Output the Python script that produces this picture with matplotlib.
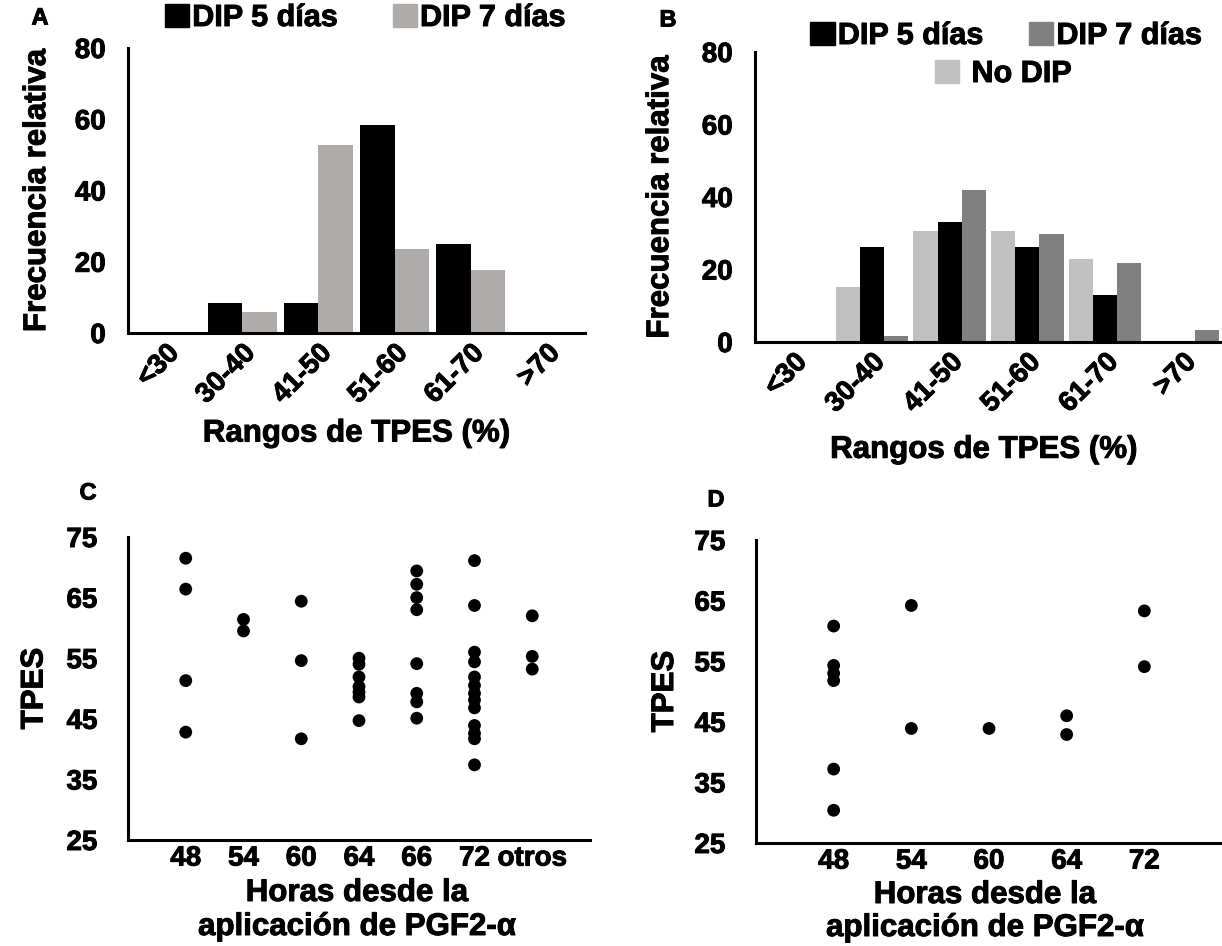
import matplotlib
matplotlib.use("Agg")
import matplotlib.pyplot as plt
import matplotlib.patheffects as pe
from matplotlib.patches import Patch
from matplotlib.text import Text
import numpy as np

plt.rcParams['font.family'] = ['Liberation Sans', 'DejaVu Sans']
plt.rcParams['font.weight'] = 'bold'

# ---------------- data ----------------
rangos = ["<30", "30-40", "41-50", "51-60", "61-70", ">70"]
a_dip5 = [0, 8.3, 8.3, 58.3, 25.0, 0]
a_dip7 = [0, 5.9, 52.9, 23.5, 17.6, 0]

b_nodip = [0, 15.1, 30.6, 30.6, 22.8, 0]
b_dip5 = [0, 26.3, 33.2, 26.3, 12.9, 0]
b_dip7 = [0, 1.6, 41.8, 29.7, 21.7, 3.4]

c_labels = ["48", "54", "60", "64", "66", "72", "otros"]
c_values = [
    [71.5, 66.4, 51.3, 42.8],
    [61.4, 59.5],
    [64.4, 54.6, 41.7],
    [55.0, 54.0, 51.9, 50.3, 49.4, 48.6, 44.7],
    [69.4, 67.2, 65.0, 63.0, 54.1, 49.2, 47.8, 45.1],
    [71.1, 63.7, 56.0, 54.4, 51.9, 50.5, 49.2, 48.1, 46.8, 43.9, 42.6, 41.7, 37.4],
    [62.0, 55.3, 53.2],
]

d_labels = ["48", "54", "60", "64", "72"]
d_values = [
    [60.8, 54.3, 53.0, 51.8, 37.2, 30.4],
    [64.2, 43.9],
    [43.9],
    [46.0, 42.9],
    [63.3, 54.1],
]

# ---------------- style ----------------
W, H = 1222, 946
fig = plt.figure(figsize=(W / 100, H / 100), dpi=100)

TICK_FS = 20
LAB_FS = 22.5
LEG_FS = 22
LET_FS = 17
SPINE_W = 2.2

BLACK = "#000000"
GRAY_A = "#AEABAA"
LIGHT_B = "#C0C0C0"
DARK_B = "#808080"


def px_axes(left, top, right, bottom):
    return fig.add_axes([left / W, 1 - bottom / H, (right - left) / W, (bottom - top) / H])


def fy(y):
    return 1 - y / H


def style(ax):
    for s in ("top", "right"):
        ax.spines[s].set_visible(False)
    for s in ("left", "bottom"):
        ax.spines[s].set_linewidth(SPINE_W)
        ax.spines[s].set_color("black")
    ax.tick_params(axis="both", length=0, labelsize=TICK_FS)
    for lab in ax.get_xticklabels() + ax.get_yticklabels():
        lab.set_fontweight("bold")


# ---------------- Panel A ----------------
axA = px_axes(128, 48, 585, 333)
x = np.arange(len(rangos)) + 0.5
bw = 0.45
axA.bar(x - bw / 2, a_dip5, width=bw, color=BLACK, label="DIP 5 días")
axA.bar(x + bw / 2, a_dip7, width=bw, color=GRAY_A, label="DIP 7 días")
axA.set_xlim(0, len(rangos))
axA.set_ylim(0, 80)
axA.set_yticks([0, 20, 40, 60, 80])
axA.set_xticks(x)
axA.set_xticklabels(rangos, rotation=45, ha="right", va="top", rotation_mode="anchor")
style(axA)
axA.tick_params(axis="y", pad=16)
axA.tick_params(axis="x", pad=5)
axA.set_ylabel("Frecuencia relativa", fontsize=LAB_FS, fontweight="bold")
axA.yaxis.set_label_coords(-0.166, 0.5)
axA.set_xlabel("Rangos de TPES (%)", fontsize=LAB_FS, fontweight="bold")
axA.xaxis.set_label_coords(0.5, -0.30)
fig.legend(handles=[Patch(color=BLACK, label="DIP 5 días"), Patch(color=GRAY_A, label="DIP 7 días")],
           loc="center", bbox_to_anchor=(365 / W, fy(18)), ncol=2, frameon=False,
           handlelength=0.8, handleheight=0.8, handletextpad=0.1,
           columnspacing=1.8, prop={"weight": "bold", "size": LEG_FS})
fig.text(40 / W, fy(18), "A", fontsize=LET_FS, fontweight="bold", ha="center", va="center")

# ---------------- Panel B ----------------
axB = px_axes(755, 52, 1222, 342)
bw3 = 0.31
axB.bar(x - bw3, b_nodip, width=bw3, color=LIGHT_B, label="No DIP")
axB.bar(x, b_dip5, width=bw3, color=BLACK, label="DIP 5 días")
axB.bar(x + bw3, b_dip7, width=bw3, color=DARK_B, label="DIP 7 días")
axB.set_xlim(0, len(rangos))
axB.set_ylim(0, 80)
axB.set_yticks([0, 20, 40, 60, 80])
axB.set_xticks(x)
axB.set_xticklabels(rangos, rotation=45, ha="right", va="top", rotation_mode="anchor")
style(axB)
axB.tick_params(axis="y", pad=16)
axB.tick_params(axis="x", pad=5)
axB.set_ylabel("Frecuencia relativa", fontsize=LAB_FS, fontweight="bold")
axB.yaxis.set_label_coords(-0.171, 0.5)
axB.set_xlabel("Rangos de TPES (%)", fontsize=LAB_FS, fontweight="bold")
axB.xaxis.set_label_coords(0.49, -0.32)
fig.legend(handles=[Patch(color=BLACK, label="DIP 5 días"), Patch(color=DARK_B, label="DIP 7 días")],
           loc="center", bbox_to_anchor=(1006 / W, fy(36)), ncol=2, frameon=False,
           handlelength=0.8, handleheight=0.8, handletextpad=0.1,
           columnspacing=1.5, prop={"weight": "bold", "size": LEG_FS})
fig.legend(handles=[Patch(color=LIGHT_B, label="No DIP")],
           loc="center", bbox_to_anchor=(1003 / W, fy(74)), ncol=1, frameon=False,
           handlelength=0.8, handleheight=0.8, handletextpad=0.4,
           prop={"weight": "bold", "size": LEG_FS})
fig.text(668 / W, fy(20), "B", fontsize=LET_FS, fontweight="bold", ha="center", va="center")


# ---------------- scatter panels ----------------
def scatter_panel(ax, labels, values, xmax):
    for i, vals in enumerate(values):
        ax.scatter([i + 1] * len(vals), vals, s=85, color="black", edgecolors="none", zorder=3)
    ax.set_xlim(0, xmax)
    ax.set_ylim(25, 75)
    ax.set_yticks([25, 35, 45, 55, 65, 75])
    ax.set_xticks(np.arange(1, len(labels) + 1))
    ax.set_xticklabels(labels)
    style(ax)
    ax.tick_params(axis="y", pad=22)
    ax.tick_params(axis="x", pad=4)
    ax.set_ylabel("TPES", fontsize=LAB_FS, fontweight="bold")


axC = px_axes(128, 537, 590, 840)
scatter_panel(axC, c_labels, c_values, 8)
axC.yaxis.set_label_coords(-0.17, 0.5)
fig.text(357 / W, fy(893), "Horas desde la", fontsize=LAB_FS, fontweight="bold", ha="center", va="center")
fig.text(357 / W, fy(927), "aplicación de PGF2-α", fontsize=LAB_FS, fontweight="bold", ha="center", va="center")
fig.text(88 / W, fy(493), "C", fontsize=LET_FS, fontweight="bold", ha="center", va="center")

axD = px_axes(756, 540, 1222, 843)
scatter_panel(axD, d_labels, d_values, 6)
axD.yaxis.set_label_coords(-0.163, 0.5)
fig.text(985 / W, fy(895), "Horas desde la", fontsize=LAB_FS, fontweight="bold", ha="center", va="center")
fig.text(985 / W, fy(928), "aplicación de PGF2-α", fontsize=LAB_FS, fontweight="bold", ha="center", va="center")
fig.text(716 / W, fy(500), "D", fontsize=LET_FS, fontweight="bold", ha="center", va="center")

# heavier text strokes to mimic the reference's very bold typeface
for t in fig.findobj(Text):
    t.set_path_effects([pe.withStroke(linewidth=0.7, foreground="black")])

fig.savefig("out.png", dpi=100, facecolor="white")
